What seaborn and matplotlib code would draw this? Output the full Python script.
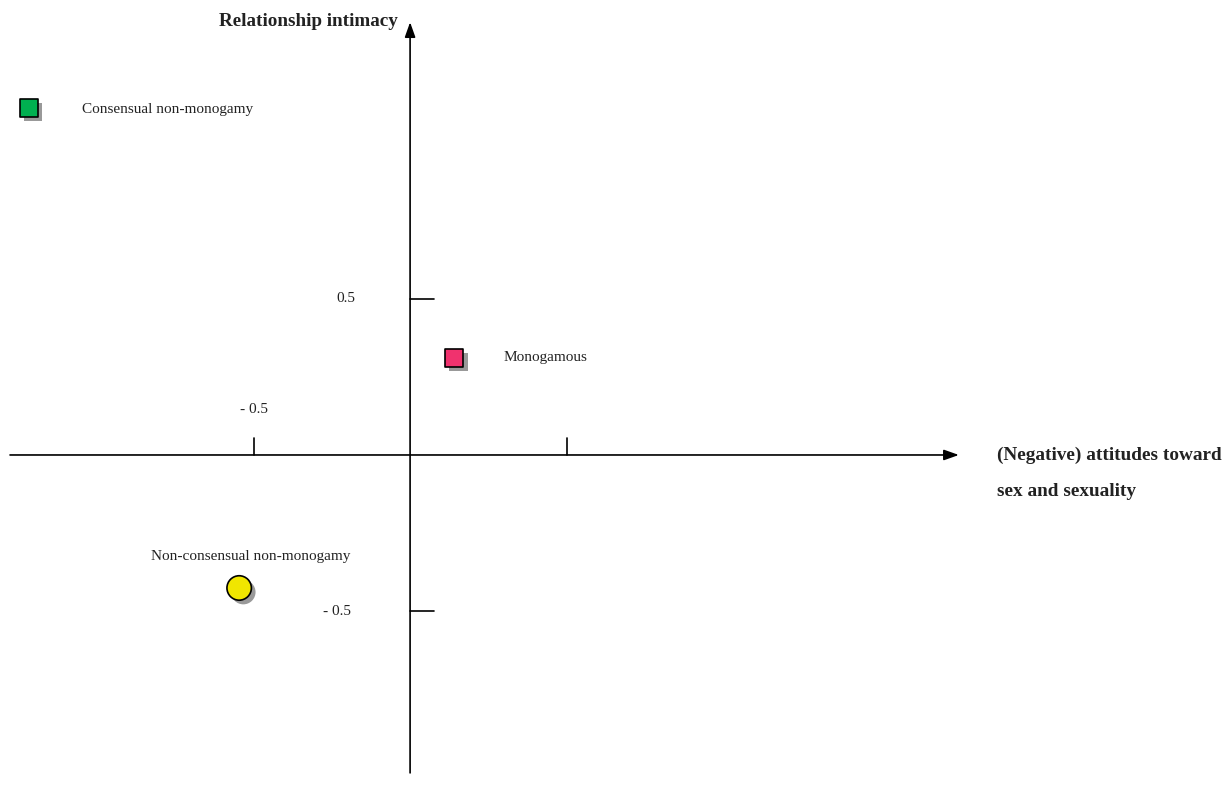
import matplotlib
matplotlib.use("Agg")
import matplotlib.pyplot as plt
import matplotlib.patheffects as pe
import pandas as pd
import seaborn as sns

# Group positions on the two dimensions
groups = ["Consensual non-monogamy", "Monogamous", "Non-consensual non-monogamy"]
attitudes = [-1.217, 0.141, -0.546]
intimacy = [1.109, 0.31, -0.425]
colors = ["#00b050", "#f0326e", "#f0e600"]
markers = ["s", "s", "o"]
sizes = [175, 175, 310]

df = pd.DataFrame({"group": groups, "x": attitudes, "y": intimacy})

sns.set_style("white")
plt.rcParams["font.family"] = ["Liberation Serif", "DejaVu Serif"]

fig = plt.figure(figsize=(12.24, 8.02), dpi=100)
ax = fig.add_axes([0, 0, 1, 1])
ax.set_xlim(-1.31, 2.60)
ax.set_ylim(-1.109, 1.454)
ax.axis("off")

# axes with arrow heads
arrow = dict(arrowstyle="-|>,head_length=0.9,head_width=0.32", color="black", lw=1.2,
             shrinkA=0, shrinkB=0)
ax.annotate("", xy=(1.753, 0), xytext=(-1.278, 0), arrowprops=arrow)
ax.annotate("", xy=(0, 1.383), xytext=(0, -1.016), arrowprops=arrow)

# ticks
for t in [-0.5, 0.5]:
    ax.plot([t, t], [0, 0.055], color="black", lw=1.2)
    ax.plot([0, 0.075], [t, t], color="black", lw=1.2)

ax.text(-0.175, 0.5, "0.5", ha="right", va="center", fontsize=11, color="#222222")
ax.text(-0.5, 0.145, "- 0.5", ha="center", va="center", fontsize=11, color="#222222")
ax.text(-0.19, -0.5, "- 0.5", ha="right", va="center", fontsize=11, color="#222222")

ax.text(-0.04, 1.386, "Relationship intimacy", ha="right", va="center",
        fontsize=13.8, fontweight="bold", color="#222222")
ax.text(1.875, -0.002, "(Negative) attitudes toward", ha="left", va="center",
        fontsize=13.9, fontweight="bold", color="#222222")
ax.text(1.875, -0.117, "sex and sexuality", ha="left", va="center",
        fontsize=13.9, fontweight="bold", color="#222222")

shadow = [pe.SimplePatchShadow(offset=(3, -3), shadow_rgbFace="#999999", alpha=1.0), pe.Normal()]
for i, row in df.iterrows():
    sc = sns.scatterplot(data=df.iloc[[i]], x="x", y="y", ax=ax, marker=markers[i],
                         s=sizes[i], color=colors[i], edgecolor="black", linewidth=1.2,
                         legend=False, zorder=5)
    sc.collections[-1].set_path_effects(shadow)

ax.text(-1.048, 1.103, groups[0], ha="left", va="center", fontsize=11, color="#222222")
ax.text(0.298, 0.31, groups[1], ha="left", va="center", fontsize=11, color="#222222")
ax.text(-0.51, -0.325, groups[2], ha="center", va="center", fontsize=11, color="#222222")

fig.savefig("out.png", dpi=100)
